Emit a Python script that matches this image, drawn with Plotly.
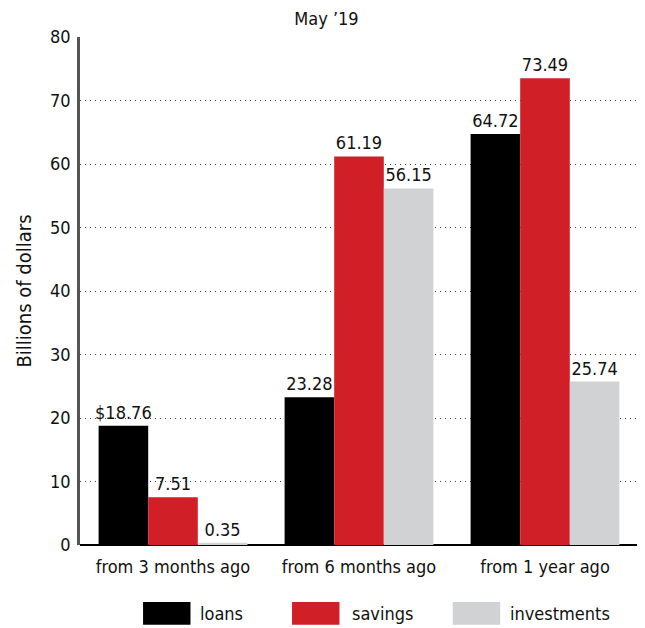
import plotly.graph_objects as go

categories = ["from 3 months ago", "from 6 months ago", "from 1 year ago"]
series_names = ["loans", "savings", "investments"]
loans = [18.76, 23.28, 64.72]
savings = [7.51, 61.19, 73.49]
investments = [0.35, 56.15, 25.74]
loans_labels = ["$18.76", "23.28", "64.72"]
savings_labels = ["7.51", "61.19", "73.49"]
investments_labels = ["0.35", "56.15", "25.74"]
colors = ["#000000", "#d01f26", "#d1d2d4"]
y_ticks = [0, 10, 20, 30, 40, 50, 60, 70, 80]

FONT = "DejaVu Sans Condensed, Liberation Sans Narrow, sans-serif"
TXT = "#111111"

fig = go.Figure()
for name, vals, labels, col in zip(series_names, [loans, savings, investments],
                                   [loans_labels, savings_labels, investments_labels], colors):
    fig.add_trace(go.Bar(
        x=categories, y=vals, name=name, marker=dict(color=col, line=dict(width=0)),
        text=labels, textposition="outside", cliponaxis=False, constraintext="none",
        textfont=dict(family=FONT, size=18, color=TXT),
    ))

fig.update_layout(
    width=637, height=620,
    margin=dict(l=72, r=7, t=29, b=83, autoexpand=False),
    paper_bgcolor="white", plot_bgcolor="white",
    barmode="group", bargap=0.2, bargroupgap=0,
    showlegend=False,
    font=dict(family=FONT, size=18, color=TXT),
    title=dict(text="May \u201919", x=0.5, xanchor="center", y=0.993, yanchor="top",
               font=dict(family=FONT, size=18, color=TXT)),
    xaxis=dict(showgrid=False, ticks="", tickfont=dict(family=FONT, size=18, color=TXT),
               showline=False, automargin=False, ticklabelstandoff=9),
    yaxis=dict(range=[0, 80], tickvals=y_ticks, showgrid=True, gridcolor="#444444",
               griddash="1px,4px", gridwidth=1, zeroline=True, zerolinecolor="#000000",
               zerolinewidth=1.5, showline=True, linecolor="#555555", linewidth=2.5,
               ticks="", ticklen=0, automargin=False, ticklabelstandoff=3,
               tickfont=dict(family=FONT, size=18, color=TXT),
               title=dict(text="Billions of dollars", font=dict(family=FONT, size=20, color=TXT),
                          standoff=14)),
)

# custom legend with wide swatches
sw_x0 = [0.113, 0.380, 0.668]
sw_w = 0.085
txt_x = [0.211, 0.484, 0.767]
for i, (name, col) in enumerate(zip(series_names, colors)):
    fig.add_shape(type="rect", xref="paper", yref="paper",
                  x0=sw_x0[i], x1=sw_x0[i] + sw_w, y0=-0.157, y1=-0.112,
                  fillcolor=col, line=dict(width=0))
    fig.add_annotation(xref="paper", yref="paper", x=txt_x[i], y=-0.134,
                       text=name, showarrow=False, xanchor="left", yanchor="middle",
                       font=dict(family=FONT, size=18, color=TXT))

fig.write_html("out.html")
